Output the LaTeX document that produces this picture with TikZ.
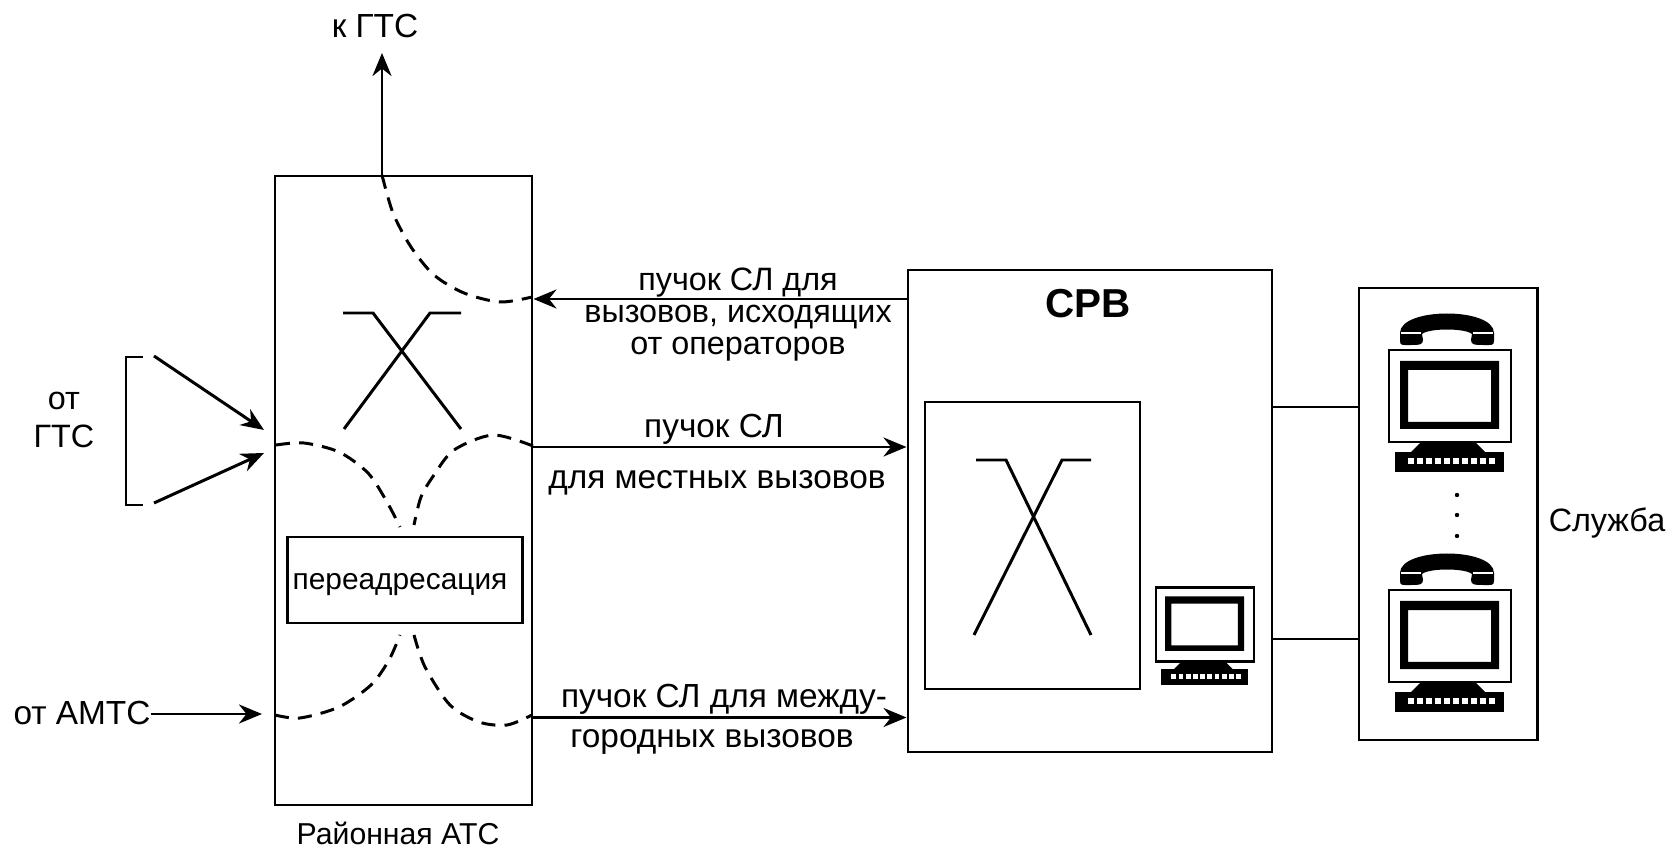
\documentclass[tikz,border=0pt]{standalone}
\usepackage{fontspec}
\setmainfont{Liberation Sans}
\usetikzlibrary{arrows.meta}
\tikzset{
    >={Stealth[length=2.3mm,width=1.9mm]},
    block/.style={draw, line width=0.85pt, inner sep=0pt},
    label/.style={inner sep=0pt, align=center, font=\fontsize{9.5}{9.2}\selectfont},
    line/.style={line width=0.85pt},
    track/.style={line width=0.85pt, dash pattern=on 4pt off 2.6pt},
    pics/terminal/.style={code={
        \draw[line width=0.7pt] (-.61,-.46) rectangle (.61,.46);
        \fill[even odd rule] (-.5,-.33) rectangle (.49,.35) (-.42,-.26) rectangle (.41,.26);
        \fill (-.3,-.47) -- (.26,-.47) -- (.36,-.57) -- (-.4,-.57) -- cycle;
        \fill (-.55,-.56) rectangle (.54,-.76);
        \foreach \i in {-.42,-.33,...,.45} \fill[white] (\i,-.68) rectangle ++(.06,.06);
    }},
    pics/handset/.style={code={
        \fill (-.47,.04) .. controls (-.47,-.01) and (-.44,0) .. (-.36,0) .. controls (-.28,0) and (-.24,0) .. (-.24,.05) -- (-.25,.11) .. controls (-.18,.17) and (.18,.17) .. (.25,.11) -- (.24,.05) .. controls (.24,0) and (.28,0) .. (.36,0) .. controls (.44,0) and (.47,-.01) .. (.47,.04) -- (.47,.12) .. controls (.47,.38) and (-.47,.38) .. (-.47,.12) -- cycle;
        \draw[white, line width=0.3pt] (-.46,.12) -- (-.26,.12) (.26,.12) -- (.46,.12);
    }},
}
\begin{document}
\begin{tikzpicture}
    \useasboundingbox (0,0) rectangle (16.73,8.48);

    %Blocks
    \node[block, minimum width=2.57cm, minimum height=6.29cm] (ats) at (4.035,3.575) {};
    \node[block, minimum width=2.35cm, minimum height=.86cm] (redirect) at (4.05,2.68) {};
    \node[block, minimum width=3.64cm, minimum height=4.82cm] (srv) at (10.9,3.37) {};
    \node[block, minimum width=2.15cm, minimum height=2.87cm] (switch) at (10.325,3.025) {};
    \node[block, minimum width=1.78cm, minimum height=4.52cm] (service) at (14.48,3.34) {};

    %Beschriftung
    \node[label] (togts) at (3.75,8.22) {к ГТС};
    \node[label, font=\fontsize{9.2}{10.6}\selectfont] (fromgts) at (.64,4.28) {от\\ГТС};
    \node[label] (fromamts) at (.82,1.35) {от АМТС};
    \node[label, font=\fontsize{8.6}{10}\selectfont] (atsname) at (3.98,.15) {Районная АТС};
    \node[label, font=\fontsize{8.5}{10}\selectfont] (redirectname) at (4,2.63) {переадресация};
    \node[label, font=\fontsize{9.2}{9.1}\selectfont] (opcalls) at (7.38,5.33) {пучок СЛ для\\вызовов, исходящих\\от операторов};
    \node[label] (localtop) at (7.14,4.19) {пучок СЛ};
    \node[label] (localbot) at (7.17,3.65) {для местных вызовов};
    \node[label] (longtop) at (7.24,1.49) {пучок СЛ для между-};
    \node[label] (longbot) at (7.12,1.06) {городных вызовов};
    \node[label, font=\fontsize{11.5}{13}\selectfont\bfseries] (srvname) at (10.88,5.44) {СРВ};
    \node[label, font=\fontsize{9.2}{10.6}\selectfont] (servicename) at (16.07,3.25) {Служба};

    %Pfeile
    \coordinate (upstart) at (3.82,6.72);
    \coordinate (upend) at (3.82,7.95);
    \draw[line, ->] (upstart) -- (upend);
    \coordinate (opstart) at ([yshift=2.12cm]srv.west);
    \draw[line, ->] (opstart) -- (opstart -| ats.east);
    \coordinate (localstart) at ([yshift=.435cm]ats.east);
    \draw[line, ->] (localstart) -- (localstart -| srv.west);
    \coordinate (longstart) at ([yshift=-2.27cm]ats.east);
    \draw[line, ->] (longstart) -- (longstart -| srv.west);
    \coordinate (amtsend) at (2.62,1.34);
    \draw[line, ->] (fromamts.east |- amtsend) -- (amtsend);

    %von ГТС
    \coordinate (bracktop) at (1.43,4.91);
    \coordinate (brackbot) at (1.43,3.43);
    \draw[line] (bracktop) -- (1.26,4.91) -- (1.26,3.43) -- (brackbot);
    \coordinate (gtsa) at (1.54,4.92);
    \coordinate (gtsb) at (2.64,4.18);
    \coordinate (gtsc) at (1.54,3.45);
    \coordinate (gtsd) at (2.64,3.95);
    \draw[line, ->] (gtsa) -- (gtsb);
    \draw[line, ->] (gtsc) -- (gtsd);

    %Wege
    \draw[track] plot [smooth] coordinates{(3.82,6.73) (3.93,6.35) (4.11,6.01) (4.34,5.73) (4.64,5.55) (5,5.46) (5.32,5.51)};
    \draw[track] plot [smooth] coordinates{(2.76,4.03) (3.04,4.05) (3.39,3.96) (3.68,3.75) (3.87,3.46) (4,3.21)};
    \draw[track] plot [smooth] coordinates{(5.33,4.02) (4.93,4.13) (4.54,3.98) (4.34,3.73) (4.21,3.51) (4.14,3.23)};
    \draw[track] plot [smooth] coordinates{(2.75,1.33) (3,1.3) (3.39,1.41) (3.71,1.63) (3.89,1.88) (4,2.13)};
    \draw[track] plot [smooth] coordinates{(4.14,2.13) (4.25,1.81) (4.5,1.43) (4.79,1.26) (5.07,1.23) (5.32,1.33)};

    %Kreuze
    \draw[line] (3.43,5.35) -- (3.73,5.35) -- (4.61,4.19);
    \draw[line] (4.61,5.35) -- (4.3,5.35) -- (3.44,4.19);
    \draw[line] (9.76,3.88) -- (10.06,3.88) -- (10.91,2.13);
    \draw[line] (10.91,3.88) -- (10.62,3.88) -- (9.74,2.13);

    %Leitungen zur Служба
    \coordinate (linea) at ([yshift=1.04cm]srv.east);
    \coordinate (lineb) at ([yshift=-1.28cm]srv.east);
    \draw[line] (linea) -- (linea -| service.west);
    \draw[line] (lineb) -- (lineb -| service.west);

    %Arbeitsplaetze
    \pic at (12.05,2.235) [scale=.8] {terminal};
    \pic at (14.5,4.52) {terminal};
    \pic at (14.47,5.03) {handset};
    \pic at (14.5,2.12) {terminal};
    \pic at (14.47,2.63) {handset};
    \foreach \y in {3.53,3.33,3.12} \fill (14.57,\y) circle (.022);
\end{tikzpicture}
\end{document}
